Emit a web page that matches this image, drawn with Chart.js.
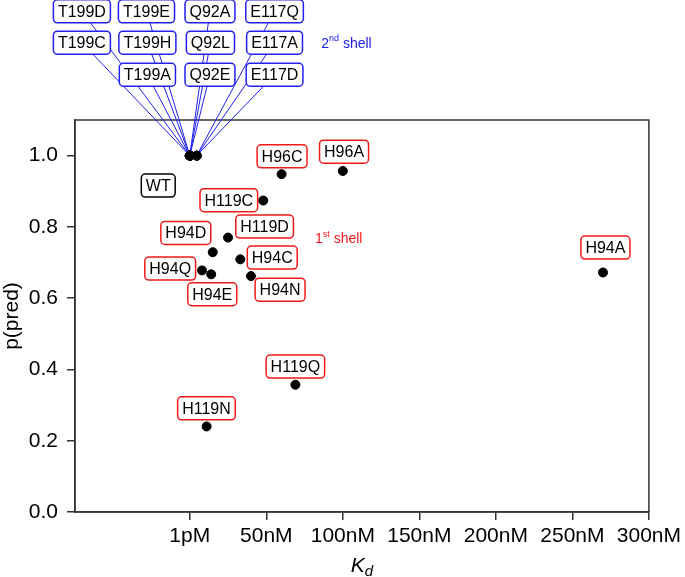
<!DOCTYPE html>
<html>
<head>
<meta charset="utf-8">
<script src="https://cdn.jsdelivr.net/npm/chart.js@4.4.0/dist/chart.umd.min.js"></script>
<style>
  body { margin: 0; background: #fff; }
  #wrap { width: 685px; height: 577px; }
</style>
</head>
<body>
<div id="wrap"><canvas id="kdChart" width="685" height="577"></canvas></div>
<script>
// 1st shell mutants (Kd in nM, 1pM ~ 0)
const firstNames = ["H96C", "H96A", "H119C", "H119D", "H94D", "H94C", "H94Q", "H94E", "H94N", "H119Q", "H119N", "H94A"];
const firstKd = [60, 100, 48, 25, 15, 33, 8, 14, 40, 69, 11, 270];
const firstP = [0.948, 0.957, 0.874, 0.770, 0.729, 0.709, 0.678, 0.667, 0.662, 0.357, 0.240, 0.672];
// where each label box sits (data coords)
const firstLabelKd = [60.3, 100.8, 25.5, 48.9, -2.6, 53.9, -12.8, 14.7, 59, 69, 10.9, 271.6];
const firstLabelP = [0.998, 1.011, 0.875, 0.801, 0.783, 0.714, 0.683, 0.611, 0.624, 0.408, 0.291, 0.742];

// 2nd shell mutants
const secondNames = ["T199D", "T199E", "Q92A", "E117Q", "T199C", "T199H", "Q92L", "E117A", "T199A", "Q92E", "E117D"];
const secondKd = [0, 0, 0, 4.5, 0, 0, 0, 4.5, 0, 0, 4.5];
const secondP = [1.0, 1.0, 1.0, 1.0, 1.0, 1.0, 1.0, 1.0, 1.0, 1.0, 1.0];
const secondLabelKd = [-70.5, -28.3, 13.2, 55.4, -70.5, -27.7, 13.5, 55.4, -27.7, 13.2, 55.4];
const secondLabelP = [1.405, 1.405, 1.405, 1.405, 1.317, 1.317, 1.317, 1.317, 1.227, 1.227, 1.227];

// wild type label only
const wtNames = ["WT"];
const wtLabelKd = [-20.6];
const wtLabelP = [0.916];

// axes
const xTickValues = [0, 50, 100, 150, 200, 250, 300];
const xTickLabels = ["1pM", "50nM", "100nM", "150nM", "200nM", "250nM", "300nM"];
const yTickValues = [0.0, 0.2, 0.4, 0.6, 0.8, 1.0];

const FONT = "'Liberation Sans', Arial, Helvetica, sans-serif";
const RED = "#f01a1a";
const BLUE = "#2020f0";
const AXIS = "#333333";

function toPoints(xs, ys) {
    return xs.map((x, i) => ({ x: x, y: ys[i] }));
}

function drawBox(ctx, text, cx, cy, color) {
    ctx.font = "16px " + FONT;
    const w = ctx.measureText(text).width + 9;
    const h = 23;
    ctx.beginPath();
    ctx.roundRect(cx - w / 2, cy - h / 2, w, h, 4);
    ctx.fillStyle = "#fff";
    ctx.fill();
    ctx.lineWidth = 1.5;
    ctx.strokeStyle = color;
    ctx.stroke();
    ctx.fillStyle = "#000";
    ctx.textAlign = "center";
    ctx.textBaseline = "middle";
    ctx.fillText(text, cx, cy + 1);
}

function drawShellNote(ctx, x, y, num, sup, color) {
    ctx.fillStyle = color;
    ctx.textBaseline = "middle";
    ctx.textAlign = "left";
    ctx.font = "14px " + FONT;
    ctx.fillText(num, x, y);
    let cx = x + ctx.measureText(num).width;
    ctx.font = "9px " + FONT;
    ctx.fillText(sup, cx, y - 5);
    cx += ctx.measureText(sup).width;
    ctx.font = "14px " + FONT;
    ctx.fillText(" shell", cx, y);
}

const annotationPlugin = {
    id: "annotations",
    beforeDatasetsDraw(chart) {
        const ctx = chart.ctx;
        const xs = chart.scales.x, ys = chart.scales.y;
        const a = chart.chartArea;
        ctx.save();
        // frame
        ctx.strokeStyle = AXIS;
        ctx.lineWidth = 1.5;
        ctx.strokeRect(a.left, a.top, a.right - a.left, a.bottom - a.top);
        // leader lines for 2nd shell labels
        ctx.strokeStyle = BLUE;
        ctx.lineWidth = 1;
        secondNames.forEach((n, i) => {
            ctx.beginPath();
            ctx.moveTo(xs.getPixelForValue(secondLabelKd[i]), ys.getPixelForValue(secondLabelP[i]));
            ctx.lineTo(xs.getPixelForValue(secondKd[i]), ys.getPixelForValue(secondP[i]));
            ctx.stroke();
        });
        ctx.restore();
    },
    afterDatasetsDraw(chart) {
        const ctx = chart.ctx;
        const xs = chart.scales.x, ys = chart.scales.y;
        ctx.save();
        secondNames.forEach((n, i) => {
            drawBox(ctx, n, xs.getPixelForValue(secondLabelKd[i]), ys.getPixelForValue(secondLabelP[i]), BLUE);
        });
        firstNames.forEach((n, i) => {
            drawBox(ctx, n, xs.getPixelForValue(firstLabelKd[i]), ys.getPixelForValue(firstLabelP[i]), RED);
        });
        wtNames.forEach((n, i) => {
            drawBox(ctx, n, xs.getPixelForValue(wtLabelKd[i]), ys.getPixelForValue(wtLabelP[i]), "#000");
        });
        drawShellNote(ctx, xs.getPixelForValue(85.9), ys.getPixelForValue(1.314), "2", "nd", BLUE);
        drawShellNote(ctx, xs.getPixelForValue(81.8), ys.getPixelForValue(0.766), "1", "st", RED);

        // x axis title K_d
        const cx = (chart.chartArea.left + chart.chartArea.right) / 2;
        ctx.fillStyle = "#000";
        ctx.textBaseline = "alphabetic";
        ctx.textAlign = "left";
        ctx.font = "italic 21px " + FONT;
        const kw = ctx.measureText("K").width;
        ctx.font = "italic 15px " + FONT;
        const dw = ctx.measureText("d").width;
        const start = cx - (kw + dw) / 2;
        ctx.font = "italic 21px " + FONT;
        ctx.fillText("K", start, 572);
        ctx.font = "italic 15px " + FONT;
        ctx.fillText("d", start + kw, 576);
        ctx.restore();
    }
};

const ctx = document.getElementById("kdChart").getContext("2d");
new Chart(ctx, {
    type: "scatter",
    data: {
        datasets: [
            {
                label: "1st shell",
                data: toPoints(firstKd, firstP),
                backgroundColor: "#000",
                borderColor: "#000",
                pointRadius: 4.5
            },
            {
                label: "2nd shell",
                data: toPoints(secondKd, secondP),
                backgroundColor: "#000",
                borderColor: "#000",
                pointRadius: 4.5
            }
        ]
    },
    options: {
        responsive: false,
        animation: false,
        devicePixelRatio: 1,
        layout: { padding: { left: 0, right: 32, top: 120, bottom: 0 } },
        plugins: {
            legend: { display: false },
            tooltip: { enabled: false }
        },
        scales: {
            x: {
                type: "linear",
                min: -75,
                max: 300,
                afterBuildTicks: (scale) => { scale.ticks = xTickValues.map(v => ({ value: v })); },
                afterFit: (scale) => { scale.height = 65; },
                grid: { drawOnChartArea: false, drawTicks: true, tickLength: 8, color: AXIS, lineWidth: 1.5 },
                border: { display: true, color: AXIS, width: 1.5 },
                ticks: {
                    color: "#000",
                    font: { family: FONT, size: 21 },
                    padding: 4,
                    maxRotation: 0,
                    autoSkip: false,
                    callback: (v) => xTickLabels[xTickValues.indexOf(v)]
                }
            },
            y: {
                min: 0,
                max: 1.1,
                afterBuildTicks: (scale) => { scale.ticks = yTickValues.map(v => ({ value: v })); },
                afterFit: (scale) => { scale.width = 75; },
                grid: { drawOnChartArea: false, drawTicks: true, tickLength: 8, color: AXIS, lineWidth: 1.5 },
                border: { display: true, color: AXIS, width: 1.5 },
                title: {
                    display: true,
                    text: "p(pred)",
                    color: "#000",
                    font: { family: FONT, size: 21 },
                    padding: { top: 0, bottom: 0 }
                },
                ticks: {
                    color: "#000",
                    font: { family: FONT, size: 21 },
                    padding: 9,
                    callback: (v) => v.toFixed(1)
                }
            }
        }
    },
    plugins: [annotationPlugin]
});
</script>
</body>
</html>
